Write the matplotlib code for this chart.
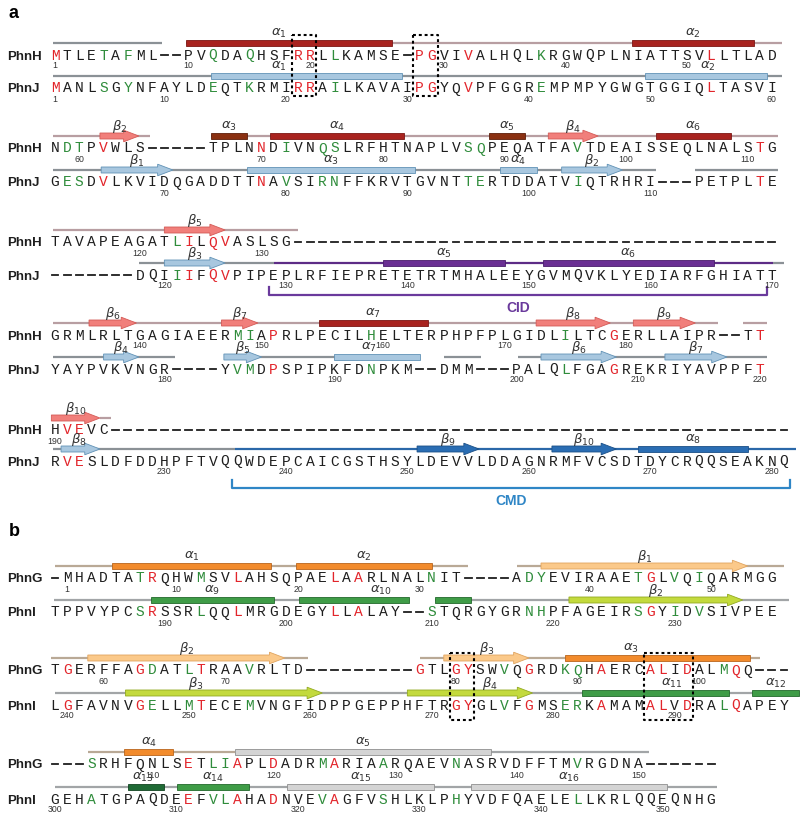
import matplotlib.pyplot as plt
from matplotlib.patches import Rectangle, Polygon

# ---------------- panel a : PhnH / PhnJ ----------------
# block 1
A1_PHNH = "MTLETAFML--PVQDAQHSFRRLLKAMSE-PGVIVALHQLKRGWQPLNIATTSVLLTLAD"
A1_PHNJ = "MANLSGYNFAYLDEQTKRMIRRAILKAVAIPGYQVPFGGREMPMPYGWGTGGIQLTASVI"
A1_RED = [0, 20, 21, 30, 31, 34, 54]
A1_GREEN = [4, 6, 13, 16, 23, 40]
A1_PHNH_COIL = [(-0.2, 8.8, "grey"), (10.8, 59.8, "mauve")]
A1_PHNH_SS = [("helix", 10.8, 27.7, "red", "1", 18.4), ("helix", 47.5, 57.5, "red", "2", None)]
A1_PHNJ_COIL = [(-0.2, 59.8, "grey")]
A1_PHNJ_SS = [("helix", 12.8, 28.6, "blue", "1", 18.4), ("helix", 48.6, 58.6, "blue", "2", 53.7)]

# block 2
A2_PHNH = "NDTPVWLS-----TPLNNDIVNQSLRFHTNAPLVSQPEQATFAVTDEAISSEQLNALSTG"
A2_PHNJ = "GESDVLKVIDQGADDTTNAVSIRNFFKRVTGVNTTERTDDATVIQTRHRI---PETPLTE"
A2_RED = [4, 17, 58]
A2_GREEN = [1, 2, 19, 22, 23, 34, 35, 43]
A2_PHNH_COIL = [(-0.2, 7.8, "mauve"), (12.8, 59.5, "mauve")]
A2_PHNH_SS = [("strand", 3.7, 6.9, "salmon", "2", None), ("helix", 12.8, 15.8, "brown", "3", None),
              ("helix", 17.7, 28.7, "red", "4", None), ("helix", 35.7, 38.7, "brown", "5", None),
              ("strand", 40.6, 44.7, "salmon", "4", None), ("helix", 49.5, 55.6, "red", "6", None)]
A2_PHNJ_COIL = [(-0.2, 49.5, "grey"), (52.7, 59.5, "grey")]
A2_PHNJ_SS = [("strand", 3.8, 9.7, "blue", "1", None), ("helix", 15.8, 29.6, "blue", "3", None),
              ("helix", 36.6, 39.7, "blue", "4", None), ("strand", 41.7, 46.7, "blue", "2", None)]

# block 3
A3_PHNH = "TAVAPEAGATLILQVASLSG" + "-" * 40
A3_PHNJ = "-------DQIIIFQVPIPEPLRFIEPRETETRTMHALEEYGVMQVKLYEDIARFGHIATT"
A3_RED = [11, 13, 14]
A3_GREEN = [10]
A3_PHNH_COIL = [(-0.2, 20.0, "mauve")]
A3_PHNH_SS = [("strand", 9.0, 14.0, "salmon", "5", None)]
A3_PHNJ_COIL = [(6.9, 18.0, "grey"), (18.0, 59.1, "purple"), (59.1, 60.0, "grey")]
A3_PHNJ_SS = [("strand", 9.0, 14.0, "blue", "3", None), ("helix", 27.0, 37.0, "purple", "5", None),
              ("helix", 40.2, 54.2, "purple", "6", None)]
CID_SPAN = (17.6, 58.6)

# block 4
A4_PHNH = "GRMLRLTGAGIAEERMIAPRLPECILHELTERPHPFPLGIDLILTCGERLLAIPR--TT"
A4_PHNJ = "YAYPVKVNGR----YVMDPSPIPKFDNPKM--DMM---PALQLFGAGREKRIYAVPPFT"
A4_RED = [18, 46, 58]
A4_GREEN = [15, 16, 26, 42]
A4_PHNH_COIL = [(-0.2, 54.6, "mauve"), (56.6, 58.6, "mauve")]
A4_PHNH_SS = [("strand", 2.8, 6.7, "salmon", "6", None), ("strand", 13.7, 16.7, "salmon", "7", None),
              ("helix", 21.7, 30.7, "red", "7", None), ("strand", 39.6, 45.7, "salmon", "8", None),
              ("strand", 47.6, 52.7, "salmon", "9", None)]
A4_PHNJ_COIL = [(-0.2, 9.9, "grey"), (13.9, 30.0, "grey"), (32.0, 35.1, "grey"), (38.1, 58.6, "grey")]
A4_PHNJ_SS = [("strand", 4.0, 6.9, "blue", "4", None), ("strand", 13.9, 17.0, "blue", "5", None),
              ("helix", 23.0, 30.0, "blue", "7", 25.8), ("strand", 40.0, 46.2, "blue", "6", None),
              ("strand", 50.2, 55.3, "blue", "7", None)]

# block 5
A5_PHNH = "HVEVC" + "-" * 56
A5_PHNJ = "RVESLDFDDHPFTVQQWDEPCAICGSTHSYLDEVVLDDAGNRMFVCSDTDYCRQQSEAKNQ"
A5_RED = [1, 2]
A5_GREEN = []
A5_PHNH_COIL = [(3.7, 4.6, "mauve")]
A5_PHNH_SS = [("strand", -0.3, 3.7, "salmon", "10", None)]
A5_PHNJ_COIL = [(-0.2, 14.8, "grey"), (14.8, 61.0, "cmd")]
A5_PHNJ_SS = [("strand", 0.5, 3.7, "blue", "8", 2.0), ("strand", 29.8, 34.9, "cmd", "9", None),
              ("strand", 40.9, 46.2, "cmd", "10", None), ("helix", 48.0, 57.0, "cmd", "8", None)]
CMD_SPAN = (14.6, 60.5)

# ---------------- panel b : PhnG / PhnI ----------------
B1_PHNG = "-MHADTATRQHWMSVLAHSQPAELAARLNALNIT----ADYEVIRAAETGLVQIQARMGG"
B1_PHNI = "TPPVYPCSRSSRLQQLMRGDEGYLLALAY--STQRGYGRNHPFAGEIRSGYIDVSIVPEE"
B1_RED = [8, 15, 23, 25, 49]
B1_GREEN = [7, 12, 31, 39, 40, 48, 51, 53]
B1_PHNG_COIL = [(0.0, 34.0, "tan"), (38.0, 60.0, "tan")]
B1_PHNG_SS = [("helix", 4.7, 17.8, "orange", "1", None), ("helix", 19.8, 31.0, "orange", "2", None),
              ("strand", 40.0, 57.0, "peach", "1", None)]
B1_PHNI_COIL = [(-0.1, 29.1, "lgrey"), (31.3, 60.4, "lgrey")]
B1_PHNI_SS = [("helix", 7.9, 18.0, "green", "9", None), ("helix", 20.1, 29.1, "green", "10", 26.8),
              ("helix", 31.3, 34.2, "green", None, None), ("strand", 42.3, 56.6, "lime", "2", None)]

B2_PHNG = "TGERFFAGDATLTRAAVRLTD---------GTLGYSWVQGRDKQHAERCALIDALMQQ---"
B2_PHNI = "LGFAVNVGELLMTECEMVNGFIDPPGEPPHFTRGYGLVFGMSERKAMAMALVDRALQAPEY"
B2_PHNG_RED = [1, 7, 12, 30, 33, 34, 39, 45, 49, 50, 52, 56]
B2_PHNI_RED = [1, 7, 12, 33, 34, 39, 45, 49, 50, 52, 56]
B2_GREEN = [8, 11, 16, 37, 42, 43, 55]
B2_PHNG_COIL = [(-0.3, 20.8, "tan"), (30.0, 58.0, "tan")]
B2_PHNG_SS = [("strand", 2.7, 18.9, "peach", "2", None), ("strand", 32.0, 39.0, "peach", "3", None),
              ("helix", 42.0, 57.2, "orange", "3", 47.4)]
B2_PHNI_COIL = [(0.0, 61.0, "lgrey")]
B2_PHNI_SS = [("strand", 5.8, 22.0, "lime", "3", 11.6), ("strand", 29.0, 39.3, "lime", "4", 35.8),
              ("helix", 43.4, 55.5, "green", "11", 50.8), ("helix", 57.4, 61.2, "green", "12", None)]

B3_PHNG = "---SRHFQNLSETLIAPLDADRMARIAARQAEVNASRVDFFTMVRGDNA------"
B3_PHNI = "GEHATGPAQDEEFVLAHADNVEVAGFVSHLKLPHYVDFQAELELLKRLQQEQNHG"
B3_RED = [11, 15, 18, 23]
B3_GREEN = [3, 13, 14, 22, 27, 33, 43]
B3_PHNG_COIL = [(2.7, 14.8, "tan"), (35.9, 48.9, "lgrey")]
B3_PHNG_SS = [("helix", 5.7, 9.7, "orange", "4", None), ("helix", 14.8, 35.9, "silver", "5", None)]
B3_PHNI_COIL = [(0.0, 54.5, "lgrey")]
B3_PHNI_SS = [("helix", 6.0, 9.0, "dgreen", "13", 7.2), ("helix", 10.0, 16.0, "green", "14", None),
              ("helix", 19.1, 31.2, "silver", "15", None), ("helix", 34.2, 50.4, "silver", "16", None)]

# conserved boxed residues (column spans)
A_BOXES = [(19.5, 21.5), (29.5, 31.5)]
B_BOXES = [(32.5, 34.5), (48.5, 52.5)]

LINE_COLOURS = {"grey": "#8b9196", "mauve": "#b89ea2", "purple": "#5d2c86", "cmd": "#2b68a9",
                "tan": "#b9a996", "lgrey": "#a2a5a7"}
FILL_COLOURS = {"red": ("#a8231f", "#7c1714"), "brown": ("#8a3011", "#5c1e0a"),
                "salmon": ("#f17f7b", "#d45b57"), "blue": ("#a8c7df", "#6192b6"),
                "purple": ("#6a2f93", "#4a1d6b"), "cmd": ("#2a6db3", "#1b4f86"),
                "orange": ("#f28b2c", "#b9651c"), "peach": ("#fbc98a", "#e0a45f"),
                "silver": ("#d4d4d4", "#8f8f8f"), "green": ("#3f9c47", "#22692b"),
                "dgreen": ("#1f6a35", "#124421"), "lime": ("#c3da3d", "#93aa22")}
RED = "#e2252b"
GREEN = "#2f8c3b"
INK = "#1e1e1e"
MONO = ["Liberation Mono", "DejaVu Sans Mono"]
SANS = ["Liberation Sans", "DejaVu Sans"]

plt.rcParams["mathtext.fontset"] = "dejavusans"


def draw_coil(ax, coils, y):
    for x0, x1, c in coils:
        ax.plot([x0, x1], [y, y], color=LINE_COLOURS[c], lw=1.6, solid_capstyle="butt", zorder=2)


def draw_elements(ax, elements, y):
    for kind, x0, x1, c, label, label_x in elements:
        face, edge = FILL_COLOURS[c]
        if kind == "helix":
            ax.add_patch(Rectangle((x0, y - 3), x1 - x0, 6, facecolor=face, edgecolor=edge,
                                   lw=0.6, zorder=3))
            greek = r"\alpha"
        else:
            head = min(1.25, x1 - x0)
            xb = x1 - head
            pts = [(x0, y - 3), (xb, y - 3), (xb, y - 5.8), (x1, y), (xb, y + 5.8), (xb, y + 3), (x0, y + 3)]
            ax.add_patch(Polygon(pts, closed=True, facecolor=face, edgecolor=edge, lw=0.6, zorder=3))
            greek = r"\beta"
        if label is not None:
            lx = label_x if label_x is not None else (x0 + x1) / 2
            ax.text(lx, y - 9.5, r"$%s_{%s}$" % (greek, label), ha="center", va="center",
                    fontsize=9.5, color="#333333", zorder=4)


def draw_sequence(ax, name, seq, start, red, green, y):
    ax.text(-3.95, y + 4.5, name, ha="left", va="baseline", fontsize=9.5, fontweight="bold",
            family=SANS, color=INK)
    res = start - 1
    for i, ch in enumerate(seq):
        if ch == "-":
            ax.plot([i - 0.28, i + 0.28], [y, y], color=INK, lw=1.3, zorder=3)
            continue
        res += 1
        colour = RED if i in red else GREEN if i in green else INK
        ax.text(i, y + 4.5, ch, ha="center", va="baseline", fontsize=10.5, family=MONO,
                color=colour, zorder=4)
        if res == 1 or res % 10 == 0:
            ax.text(i, y + 11, str(res), ha="center", va="center", fontsize=6.3,
                    family=SANS, color="#333333")


def draw_row(ax, name, seq, start, red, green, coils, elements, y):
    draw_coil(ax, coils, y - 12)
    draw_elements(ax, elements, y - 12)
    draw_sequence(ax, name, seq, start, red, green, y)


def draw_boxes(ax, boxes, y0, y1):
    for x0, x1 in boxes:
        ax.plot([x0, x1, x1, x0, x0], [y0, y0, y1, y1, y0], color="black", lw=1.5,
                ls=(0, (1.4, 1.4)), zorder=5)


def draw_bracket(ax, span, y, text, colour):
    x0, x1 = span
    ax.plot([x0, x0, x1, x1], [y - 8, y, y, y - 8], color=colour, lw=1.6, zorder=2)
    ax.text((x0 + x1) / 2, y + 13, text, ha="center", va="center", fontsize=10,
            fontweight="bold", family=SANS, color=colour)


fig = plt.figure(figsize=(8, 8.27), dpi=100)
ax = fig.add_axes([0, 0, 1, 1])
ax.set_xlim(-55 / 12.15, 745 / 12.15)
ax.set_ylim(827, 0)
ax.axis("off")

ax.text(-3.8, 13, "a", ha="left", va="center", fontsize=13, fontweight="bold", family=SANS)
ax.text(-3.8, 532, "b", ha="left", va="center", fontsize=13, fontweight="bold", family=SANS)

# panel a
draw_row(ax, "PhnH", A1_PHNH, 1, A1_RED, A1_GREEN, A1_PHNH_COIL, A1_PHNH_SS, 55)
draw_row(ax, "PhnJ", A1_PHNJ, 1, A1_RED, A1_GREEN, A1_PHNJ_COIL, A1_PHNJ_SS, 88)
draw_boxes(ax, A_BOXES, 35, 96)

draw_row(ax, "PhnH", A2_PHNH, 58, A2_RED, A2_GREEN, A2_PHNH_COIL, A2_PHNH_SS, 148)
draw_row(ax, "PhnJ", A2_PHNJ, 61, A2_RED, A2_GREEN, A2_PHNJ_COIL, A2_PHNJ_SS, 182)

draw_row(ax, "PhnH", A3_PHNH, 113, A3_RED, A3_GREEN, A3_PHNH_COIL, A3_PHNH_SS, 242)
draw_row(ax, "PhnJ", A3_PHNJ, 118, A3_RED, A3_GREEN, A3_PHNJ_COIL, A3_PHNJ_SS, 275)
draw_bracket(ax, CID_SPAN, 295, "CID", "#6a3a9c")

draw_row(ax, "PhnH", A4_PHNH, 133, A4_RED, A4_GREEN, A4_PHNH_COIL, A4_PHNH_SS, 335)
draw_row(ax, "PhnJ", A4_PHNJ, 171, A4_RED, A4_GREEN, A4_PHNJ_COIL, A4_PHNJ_SS, 369)

draw_row(ax, "PhnH", A5_PHNH, 190, A5_RED, A5_GREEN, A5_PHNH_COIL, A5_PHNH_SS, 430)
draw_row(ax, "PhnJ", A5_PHNJ, 221, A5_RED, A5_GREEN, A5_PHNJ_COIL, A5_PHNJ_SS, 461)
draw_bracket(ax, CMD_SPAN, 488, "CMD", "#2f86c6")

# panel b
draw_row(ax, "PhnG", B1_PHNG, 1, B1_RED, B1_GREEN, B1_PHNG_COIL, B1_PHNG_SS, 578)
draw_row(ax, "PhnI", B1_PHNI, 181, B1_RED, B1_GREEN, B1_PHNI_COIL, B1_PHNI_SS, 612)

draw_row(ax, "PhnG", B2_PHNG, 56, B2_PHNG_RED, B2_GREEN, B2_PHNG_COIL, B2_PHNG_SS, 670)
draw_row(ax, "PhnI", B2_PHNI, 239, B2_PHNI_RED, B2_GREEN, B2_PHNI_COIL, B2_PHNI_SS, 705)
draw_boxes(ax, B_BOXES, 653, 720)

draw_row(ax, "PhnG", B3_PHNG, 105, B3_RED, B3_GREEN, B3_PHNG_COIL, B3_PHNG_SS, 764)
draw_row(ax, "PhnI", B3_PHNI, 300, B3_RED, B3_GREEN, B3_PHNI_COIL, B3_PHNI_SS, 799)

fig.savefig("out.png", dpi=100)
